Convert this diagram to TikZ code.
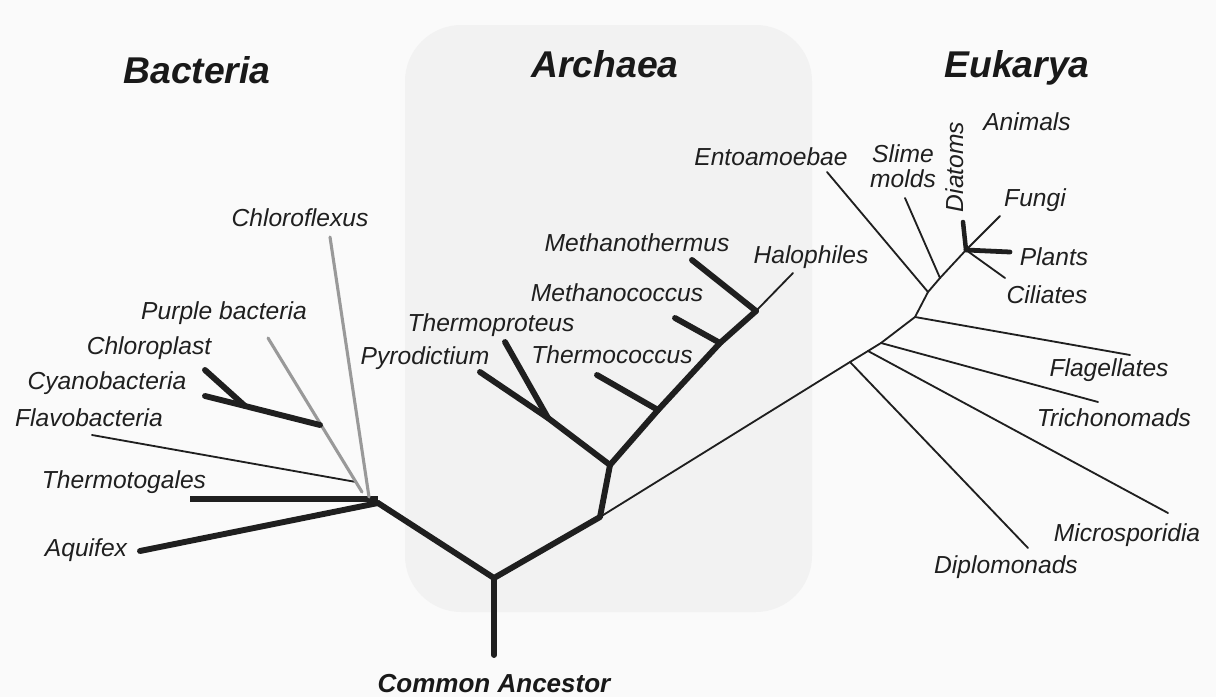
\documentclass[tikz,border=0pt]{standalone}
\usepackage{fontspec}
\setmainfont{Liberation Sans}
\begin{document}
\begin{tikzpicture}[x=0.025cm,y=-0.025cm,
  lab/.style={font=\fontsize{17.5}{19}\selectfont\itshape, text=black!88, inner sep=0pt, align=center},
  dom/.style={font=\fontsize{26.5}{30}\selectfont\bfseries\itshape, text=black!90, inner sep=0pt},
  anc/.style={font=\fontsize{18.5}{21}\selectfont\bfseries\itshape, text=black!90, inner sep=0pt},
  brthick/.style={draw=black!88, line width=4.2pt, line cap=round, line join=round},
  brthin/.style={draw=black!88, line width=1.3pt, line cap=round},
  brgrey/.style={draw=black!40, line width=2.2pt, line cap=round}]
\useasboundingbox (0,0) rectangle (1216,697);
\fill[black!2] (0,0) rectangle (1216,697);
\fill[black!5, rounded corners=40pt] (405,25) rectangle (812,612);

% domain titles
\node[dom] (tB) at (197,70) {Bacteria};
\node[dom] (tA) at (605,64) {Archaea};
\node[dom] (tE) at (1017,68) {Eukarya};
\node[anc] (tC) at (494,684) {Common Ancestor};

% ---------- coordinates ----------
\coordinate (root) at (494,578);
\coordinate (rootend) at (494,655);
\coordinate (B) at (378,503);
\coordinate (A0) at (600,517);
\coordinate (A1) at (610,465);

% Bacteria
\coordinate (aqu) at (140,551);
\coordinate (tmgL) at (190,499);
\coordinate (tmgR) at (378,499);
\coordinate (flaL) at (92,435);
\coordinate (flaR) at (356,482);
\coordinate (cfxT) at (330,237);
\coordinate (cfxB) at (369,497);
\coordinate (purT) at (268,338);
\coordinate (purB) at (362,492);
\coordinate (cyJ) at (320,425);
\coordinate (cyK) at (245,406);
\coordinate (cyan) at (205,396);
\coordinate (chlo) at (205,370);

% Archaea
\coordinate (AP) at (548,418);
\coordinate (pyro) at (480,372);
\coordinate (tprot) at (505,342);
\coordinate (tcJ) at (658,410);
\coordinate (tcoc) at (597,375);
\coordinate (mcJ) at (720,343);
\coordinate (mcoc) at (675,318);
\coordinate (mtJ) at (756,311);
\coordinate (mth) at (692,260);
\coordinate (halo) at (793,273);

% Eukarya
\coordinate (E1) at (850,362);
\coordinate (E2) at (868,351);
\coordinate (E3) at (881,343);
\coordinate (E4) at (915,317);
\coordinate (E5) at (928,292);
\coordinate (E6) at (940,278);
\coordinate (C) at (966,250);
\coordinate (dipl) at (1028,548);
\coordinate (micr) at (1168,513);
\coordinate (tric) at (1098,402);
\coordinate (flag) at (1130,355);
\coordinate (ento) at (827,172);
\coordinate (slim) at (905,198);
\coordinate (diat) at (963,222);
\coordinate (fung) at (1000,216);
\coordinate (plan) at (1010,252);
\coordinate (cili) at (1005,278);

% ---------- branches ----------
\draw[brthick] (rootend) -- (root);
\draw[brthick] (B) -- (root) -- (A0) -- (A1);
\draw[brthick] (aqu) -- (B);
\draw[brthick, line cap=butt] (tmgL) -- (tmgR);
\draw[brthin] (flaL) -- (flaR);
\draw[brgrey] (cfxT) -- (cfxB);
\draw[brgrey] (purT) -- (purB);
\draw[brthick] (chlo) -- (cyK);
\draw[brthick] (cyan) -- (cyK) -- (cyJ);

\draw[brthick] (A1) -- (AP) -- (pyro);
\draw[brthick] (AP) -- (tprot);
\draw[brthick] (A1) -- (tcJ) -- (mcJ) -- (mtJ);
\draw[brthick] (tcJ) -- (tcoc);
\draw[brthick] (mcJ) -- (mcoc);
\draw[brthick] (mtJ) -- (mth);
\draw[brthin] (mtJ) -- (halo);

\draw[brthin] (A0) -- (E1) -- (E2) -- (E3) -- (E4) -- (E5) -- (E6) -- (C);
\draw[brthin] (E1) -- (dipl);
\draw[brthin] (E2) -- (micr);
\draw[brthin] (E3) -- (tric);
\draw[brthin] (E4) -- (flag);
\draw[brthin] (E5) -- (ento);
\draw[brthin] (E6) -- (slim);
\draw[brthick, line width=3.2pt] (C) -- (diat);
\draw[brthin] (C) -- (fung);
\draw[brthick, line width=3.4pt] (C) -- (plan);
\draw[brthin] (C) -- (cili);

% ---------- labels ----------
\node[lab] (lcfx) at (300,218) {Chloroflexus};
\node[lab] (lpur) at (224,313) {Purple bacteria};
\node[lab] (lchl) at (149,348) {Chloroplast};
\node[lab] (lcya) at (107,383) {Cyanobacteria};
\node[lab] (lfla) at (89,418) {Flavobacteria};
\node[lab] (ltmg) at (124,482) {Thermotogales};
\node[lab] (laqu) at (86,550) {Aquifex};

\node[lab] (lmth) at (637,243) {Methanothermus};
\node[lab] (lhal) at (811,257) {Halophiles};
\node[lab] (lmco) at (617,293) {Methanococcus};
\node[lab] (ltpr) at (491,325) {Thermoproteus};
\node[lab] (lpyr) at (425,358) {Pyrodictium};
\node[lab] (ltco) at (612,355) {Thermococcus};

\node[lab] (lent) at (771,157) {Entoamoebae};
\node[lab] (lsli) at (903,166) {Slime\\[-1pt]molds};
\node[lab, rotate=90] (ldia) at (955,167) {Diatoms};
\node[lab] (lani) at (1027,122) {Animals};
\node[lab] (lfun) at (1035,200) {Fungi};
\node[lab] (lpla) at (1054,257) {Plants};
\node[lab] (lcil) at (1047,295) {Ciliates};
\node[lab] (lfla2) at (1109,370) {Flagellates};
\node[lab] (ltri) at (1114,418) {Trichonomads};
\node[lab] (lmic) at (1127,535) {Microsporidia};
\node[lab] (ldip) at (1006,567) {Diplomonads};
\end{tikzpicture}
\end{document}
